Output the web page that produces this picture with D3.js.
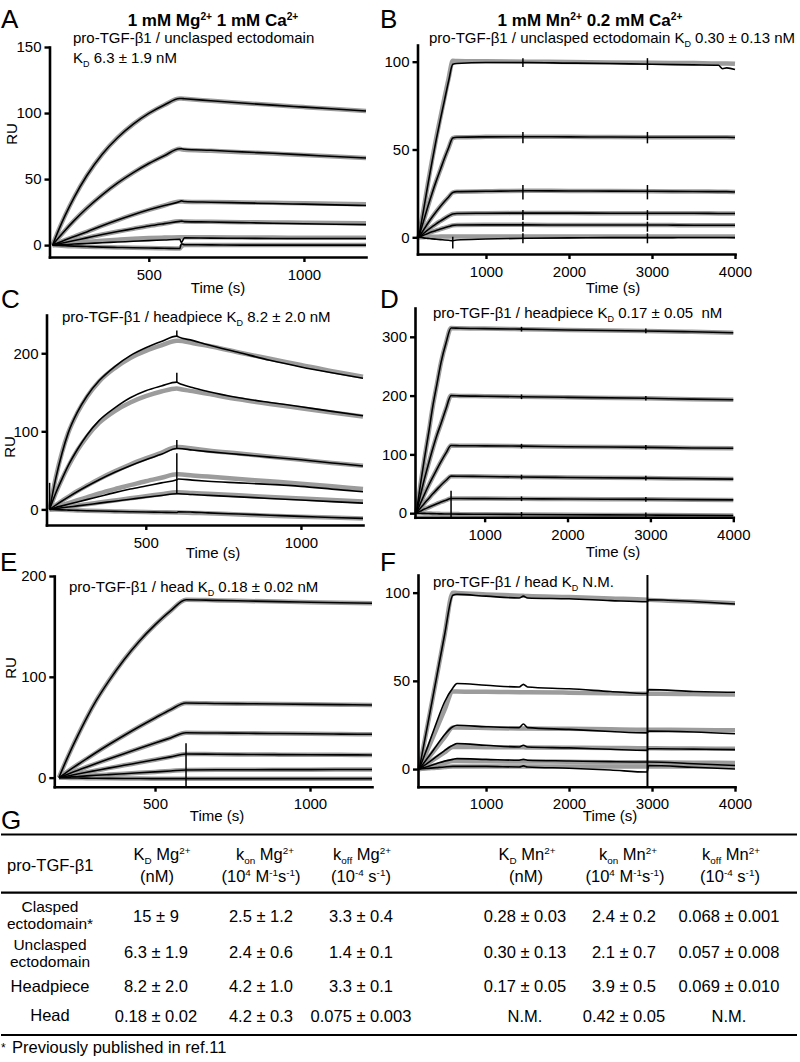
<!DOCTYPE html>
<html><head><meta charset="utf-8">
<script src="https://cdn.jsdelivr.net/npm/d3@7"></script>
<style>
html,body{margin:0;padding:0;background:#fff;}
svg{display:block;font-family:"Liberation Sans",Arial,Helvetica,sans-serif;}
</style></head>
<body>
<svg id="fig" width="800" height="1062"></svg>
<script>
// ---------------- DATA ----------------
// Panel A (Mg, unclasped ectodomain)
const aTime = [190,210,230,260,300,350,400,450,500,550,600,605,615,700,800,900,1000,1100,1200];
const aData1 = [0,11.7,22.3,36.4,52.5,68.8,81.5,91.6,99.7,106.1,111,111,110.8,109.3,107.6,106,104.5,103,101.5];
const aData2 = [0,5.7,11.1,18.7,27.9,38.1,47.1,54.9,61.8,67.7,73,73,72.6,71.8,70.6,69.5,68.3,67.1,66];
const aData3 = [0,1.9,3.8,6.5,10,14.7,19,23,26.7,30,33,33.5,33,32.5,32,31.5,31,30.5,30];
const aData4 = [0,1,2,3.5,5.5,8,10.3,12.4,14.5,16.3,18,18.2,17.8,17.5,17,16.6,16.2,15.8,15.5];
const aData5 = [0,0.2,0.5,0.8,1.2,1.8,2.3,2.9,3.4,3.9,4.4,2,5.5,5.3,5.2,5,5,5,5];
const aData6 = [0,-0.3,-0.5,-0.8,-1.1,-1.5,-1.8,-2,-2.2,-2.4,-2.6,1,0.3,0.2,0,0,0,0,0];
const aFit1 = [0,11.7,22.3,36.4,52.5,68.8,81.5,91.6,99.7,106.1,111,111,110.8,109.3,107.6,106,104.5,103,101.5];
const aFit2 = [0,5.7,11.1,18.7,27.9,38.1,47.1,54.9,61.8,67.7,73,72.5,72.2,71.5,70.4,69.3,68.2,67.1,66];
const aFit3 = [0,1.9,3.8,6.5,10,14.7,19,23,26.7,30,33,33,32.9,32.6,32.3,32,31.7,31.3,31];
const aFit4 = [0,1,2,3.5,5.5,8,10.3,12.4,14.5,16.3,18,18,17.9,17.7,17.4,17.2,17,16.8,16.5];
const aFit5 = [0,0.5,1,1.6,2.4,3.3,4.1,4.8,5.3,5.7,6,6,6,5.9,5.8,5.7,5.6,5.5,5.5];
const aFit6 = [0,-0.3,-0.6,-0.9,-1.2,-1.5,-1.8,-2,-2.2,-2.4,-2.5,-1,0,0,0,0,0,0,0];
const aSpikes = [];

// Panel B (Mn, unclasped ectodomain)
const bTime = [190,250,300,350,400,450,500,550,600,650,1000,1500,2000,2500,3000,3500,3800,3850,3900,4000];
const bData1 = [0,16,30,43,55.5,67,78,89,98.5,99,99.5,99.5,99.2,99,98.5,98.2,98,96,96.5,95.5];
const bData2 = [0,9.5,17.5,25,32,38.5,45,51,56.5,57,57.2,57.3,57.2,57.1,57,57,57,57,57,56.8];
const bData3 = [0,4.3,8,11.4,14.6,17.6,20.4,23,25.5,26,26.2,26.5,26.4,26.3,26.2,26.1,26,26,26,25.8];
const bData4 = [0,2.3,4.2,6,7.7,9.2,10.7,12.1,13.3,13.6,13.7,13.8,13.8,13.7,13.7,13.7,13.6,13.6,13.6,13.6];
const bData5 = [0,1.2,2.2,3.1,3.9,4.7,5.4,6.1,6.8,7,7.1,7.1,7,7,7,6.9,6.9,6.9,6.9,6.9];
const bData6 = [0,-0.3,-0.6,-0.9,-1.1,-1.3,-1.5,-1.7,-1.9,-1.5,-1,-0.5,-0.3,-0.2,-0.2,-0.1,-0.1,-0.1,-0.1,-0.2];
const bFit1 = [0,16.5,30.5,44,56.5,68,79.5,90.5,100.5,100.4,100.2,100,99.8,99.6,99.4,99.2,99,99,99,98.8];
const bFit6 = [0,0.1,0.2,0.3,0.3,0.4,0.4,0.4,0.5,0.5,0.5,0.5,0.5,0.5,0.5,0.5,0.5,0.5,0.5,0.5];
const bSpikes = [[1445,97,102],[2945,95.3,102],[1445,53.5,60],[2945,53.5,60],[1445,21.6,29.8],[2945,21.6,29.8],
  [1445,9.8,15.5],[2945,9.8,15.5],[1445,3.2,8.9],[2945,3.2,8.9],[1445,-3.4,2.3],[2945,-3.4,2.3],[600,-6.3,0.3]];

// Panel C (Mg, headpiece)
const cTime = [190,210,230,250,280,310,350,400,450,500,550,600,605,650,700,800,900,1000,1100,1200];
const cData1 = [0,40,72,98,125,145,165,183,197,207,215,222,221,216.5,211,201,191,182.5,175,168];
const cData2 = [0,21,39,56,77,95,114,130,143,152,158,163,162,156,151,143,137,131.5,125.5,120];
const cData3 = [0,5.5,10.7,15.7,22.9,29.6,38,47.5,56,63.6,70.5,78,78,76,74,70.5,67,63.5,59.5,55.5];
const cData4 = [0,2.5,4.5,6.5,9.5,12.5,16.5,21.5,26,30,34,38,39,37.5,36,34,32,29.5,26,22.5];
const cData5 = [0,1,2,3,4.5,6,8,10.5,13,15.5,17.8,20,20,19,18,16,14,12,10,8];
const cData6 = [0,-0.3,-0.6,-0.9,-1.3,-1.7,-2.1,-2.6,-3,-3.4,-3.7,-4,-3,-3.5,-4.5,-6,-7.5,-9,-10.3,-11.5];
const cFit1 = [0,41,73,98,124,144,164,181,194,203,210,216,216,213,209.5,201,193,185,177,170];
const cFit2 = [0,21,39,55,76,93,111,126,137,145,151,155,154.5,151.5,148,141,135,129.5,124,119];
const cFit3 = [0,5.6,11,16,23.5,30.3,39,48.7,57.5,65.3,72.5,80,80,78,75.5,71.5,67.5,63.5,59.5,56];
const cFit4 = [0,2.8,5.5,8,11.8,15.5,20.5,26,31,36,40.5,45,45,43.5,42,39,36,33,29.5,26];
const cFit5 = [0,1.1,2.2,3.3,5,6.7,8.8,11.5,14.2,16.8,19.5,22,22,21,20,18,16,14,12,10];
const cFit6 = [0,-0.3,-0.6,-0.9,-1.3,-1.7,-2.1,-2.6,-3,-3.4,-3.7,-4,-4,-4.5,-5,-6.5,-8,-9.3,-10.5,-11.7];
const cSpikes = [[190,0,34],[600,222,229],[600,163,175],[600,78,89],[600,21,72]];

// Panel D (Mn, headpiece)
const dTime = [175,225,275,325,375,425,475,535,595,700,1000,1445,2000,2945,3500,4000];
const dData1 = [0,48,94,137,182,220,257,290,315,314.5,314,313,311.5,310,308.5,307];
const dData2 = [0,30,59,85,110,133,153,178,200,199.5,199,198,197,195.5,194,193];
const dData3 = [0,16.5,32.5,47.5,61.5,75,88,102.5,115,114.8,114.5,114,113,112,111,110.5];
const dData4 = [0,8.5,17,25,33,40.5,48,56,63,62.8,62.5,61.5,60.8,59.7,58.8,58];
const dData5 = [0,3.5,7,10,13,16,19,22,25,24.9,24.8,24.5,24,23.5,23,22.6];
const dData6 = [0,-0.2,-0.4,-0.6,-0.8,-1,-1.2,-1.4,-1.5,-1.6,-1.8,-2.2,-2.6,-3.2,-3.6,-4];
const dSpikes = [[1445,309,317],[2945,306,314],[1445,194,202],[2945,191.5,199.5],[1445,110,118],[2945,108,116],
  [1445,57.5,65.5],[2945,55.7,63.7],[1445,20.5,28.5],[2945,19.5,27.5],[1445,-6,2],[2945,-7,1],[595,-7,38]];

// Panel E (Mg, head)
const eTime = [190,210,230,250,280,310,350,400,450,500,550,600,700,800,900,1000,1100,1200];
const eData1 = [0,14.6,28.3,41.2,59.6,76.3,95.5,117,135.6,151.5,165.4,176.5,175.8,175.2,174.6,174,173.5,173];
const eData2 = [0,4.3,8.6,12.8,18.9,24.9,32.6,41.8,50.7,59.2,67.4,74,73.6,73.3,73,72.7,72.4,72];
const eData3 = [0,2.4,4.8,7.1,10.6,14,18.4,23.8,29.1,34.3,39.4,44.5,44.2,44,43.7,43.5,43.2,43];
const eData4 = [0,1.2,2.4,3.6,5.4,7.1,9.4,12.2,15,17.8,20.6,23.5,23.2,23,22.8,22.7,22.6,22.5];
const eData5 = [0,0.4,0.8,1.1,1.7,2.3,3,3.9,4.8,5.7,6.6,7.6,7.8,7.8,7.9,7.9,8,8];
const eData6 = [0,-0.2,-0.3,-0.4,-0.5,-0.6,-0.7,-0.8,-0.9,-1,-1,-1,-1,-1,-1,-1,-1,-1];
const eSpikes = [[600,-9,34]];

// Panel F (Mn, head)
const fTime = [195,300,400,500,600,650,1000,1400,1450,1500,2000,2500,2940,2960,3500,4000];
const fData1 = [0,26,51,76,98.5,99,98,97,98,97,96.5,95.5,94.8,96,95,93.6];
const fData2 = [0,13,26,38,46,48.5,47.5,46.5,48,46.5,45.5,44,42.8,45,44,43.5];
const fData3 = [0,6.5,13,19.5,24,24.8,24,23.5,25.5,23.5,22.5,21.3,20.5,21.5,21,20];
const fData4 = [0,3.5,7,10.5,13.5,14.4,13.5,12.5,13.5,12.5,12,11.2,10.6,11.5,11.3,11];
const fData5 = [0,1.5,3,4.5,5.5,5.9,5.5,5,5.5,5,4.6,4.2,4,4,3,2];
const fData6 = [0,0.4,0.8,1.2,1.5,1.5,1.5,1.2,1.8,1.2,0.5,-0.5,-1.7,2,1,0];
const fFit1 = [0,26,51,76,100,99.8,99,98.3,98.2,98.1,97.5,96.7,96,95.9,95,94];
const fFit2 = [0,11.5,22.5,33.5,44,43.9,43.8,43.6,43.6,43.5,43.3,43,42.7,42.7,42.5,42.2];
const fFit3 = [0,6,12,18,23.5,23.5,23.3,23,23,23,22.8,22.5,22.3,22.3,22.1,22];
const fFit4 = [0,3.2,6.4,9.5,12.5,12.5,12.4,12.3,12.3,12.2,12.1,12,11.8,11.8,11.6,11.5];
const fFit5 = [0,1.2,2.3,3.5,4.5,4.5,4.4,4.3,4.3,4.3,4.1,3.9,3.8,3.8,3.6,3.5];
const fFit6 = [0,0.4,0.8,1.1,1.5,1.5,1.5,1.5,1.5,1.5,1.5,1.5,1.5,1.5,1.5,1.5];
const fSpikes = [[2945,-10,110]];

// Tick values
const xTicksMg = [500,1000];
const xTicksMn = [1000,2000,3000,4000];
const yTicksA = [0,50,100,150];
const yTicksB = [0,50,100];
const yTicksC = [0,100,200];
const yTicksD = [0,100,200,300];
const yTicksE = [0,100,200];
const yTicksF = [0,50,100];

// Table G
const rowLabels = [["Clasped","ectodomain*"],["Unclasped","ectodomain"],["Headpiece"],["Head"]];
const kdMg   = ["15 ± 9","6.3 ± 1.9","8.2 ± 2.0","0.18 ± 0.02"];
const konMg  = ["2.5 ± 1.2","2.4 ± 0.6","4.2 ± 1.0","4.2 ± 0.3"];
const koffMg = ["3.3 ± 0.4","1.4 ± 0.1","3.3 ± 0.1","0.075 ± 0.003"];
const kdMn   = ["0.28 ± 0.03","0.30 ± 0.13","0.17 ± 0.05","N.M."];
const konMn  = ["2.4 ± 0.2","2.1 ± 0.7","3.9 ± 0.5","0.42 ± 0.05"];
const koffMn = ["0.068 ± 0.001","0.057 ± 0.008","0.069 ± 0.010","N.M."];

// ---------------- DRAWING ----------------
const svg = d3.select("#fig");
const GRAY = "#9c9c9c";

function rich(sel, x, y, parts, size, anchor, weight) {
  const t = sel.append("text").attr("x", x).attr("y", y).attr("font-size", size)
    .attr("text-anchor", anchor || "start").attr("fill", "#000");
  if (weight) t.attr("font-weight", weight);
  let shift = 0;
  parts.forEach(p => {
    const s = typeof p === "string" ? p : p[0];
    const kind = typeof p === "string" ? "n" : p[1];
    const target = kind === "sup" ? -0.36 * size : kind === "sub" ? 0.25 * size : 0;
    const ts = t.append("tspan").text(s).attr("dy", target - shift);
    if (kind !== "n") ts.attr("font-size", size * 0.6);
    shift = target;
  });
  return t;
}

const panels = [
  {time:aTime, data:[aData1,aData2,aData3,aData4,aData5,aData6], fit:[aFit1,aFit2,aFit3,aFit4,aFit5,aFit6], spikes:aSpikes,
   xd:[180,1200], xr:[49.5,366], yd:[-9,150], yr:[257,47], xt:xTicksMg, yt:yTicksA, time_lbl:[218,293], ru:[12,134]},
  {time:bTime, data:[bData1,bData2,bData3,bData4,bData5,bData6], fit:[bFit1,bData2,bData3,bData4,bData5,bFit6], spikes:bSpikes,
   xd:[175,4000], xr:[417.5,735], yd:[-9.5,109.5], yr:[254,45], xt:xTicksMn, yt:yTicksB, time_lbl:[613,293]},
  {time:cTime, data:[cData1,cData2,cData3,cData4,cData5,cData6], fit:[cFit1,cFit2,cFit3,cFit4,cFit5,cFit6], spikes:cSpikes,
   xd:[180,1200], xr:[46.5,363], yd:[-20,249], yr:[525,315], xt:xTicksMg, yt:yTicksC, time_lbl:[213,558], ru:[10,447]},
  {time:dTime, data:[dData1,dData2,dData3,dData4,dData5,dData6], fit:[dData1,dData2,dData3,dData4,dData5,dData6], spikes:dSpikes,
   xd:[160,4000], xr:[415,733.3], yd:[-7,349], yr:[517.3,308], xt:xTicksMn, yt:yTicksD, time_lbl:[613,557]},
  {time:eTime, data:[eData1,eData2,eData3,eData4,eData5,eData6], fit:[eData1,eData2,eData3,eData4,eData5,eData6], spikes:eSpikes,
   xd:[175,1200], xr:[54.3,372], yd:[-9,200], yr:[786.7,576], xt:xTicksMg, yt:yTicksE, time_lbl:[217,821], ru:[11,668]},
  {time:fTime, data:[fData1,fData2,fData3,fData4,fData5,fData6], fit:[fFit1,fFit2,fFit3,fFit4,fFit5,fFit6], spikes:fSpikes,
   xd:[180,4000], xr:[418,735], yd:[-10,110], yr:[786.7,575], xt:xTicksMn, yt:yTicksF, time_lbl:[610,821]}
];

panels.forEach(p => {
  const x = d3.scaleLinear().domain(p.xd).range(p.xr);
  const y = d3.scaleLinear().domain(p.yd).range(p.yr);
  const g = svg.append("g");
  const line = d3.line().x(d => x(d[0])).y(d => y(d[1])).curve(d3.curveMonotoneX);
  // gray fits
  p.fit.forEach(arr => {
    g.append("path").attr("d", line(p.time.map((t,i) => [t, arr[i]])))
      .attr("fill","none").attr("stroke",GRAY).attr("stroke-width",4.5).attr("stroke-linejoin","round");
  });
  // black data
  p.data.forEach(arr => {
    g.append("path").attr("d", line(p.time.map((t,i) => [t, arr[i]])))
      .attr("fill","none").attr("stroke","#000").attr("stroke-width",1.6).attr("stroke-linejoin","round");
  });
  // spikes
  g.selectAll("line.spk").data(p.spikes).enter().append("line")
    .attr("x1", d => x(d[0])).attr("x2", d => x(d[0]))
    .attr("y1", d => y(d[1])).attr("y2", d => y(d[2]))
    .attr("stroke","#000").attr("stroke-width", d => (d[2]-d[1]) > (p.yd[1]-p.yd[0])*0.5 ? 2 : 1.5);
  // axes
  const xa = g.append("g").attr("transform", `translate(0,${p.yr[0]})`)
    .call(d3.axisBottom(x).tickValues(p.xt).tickSize(5).tickSizeOuter(0).tickPadding(7).tickFormat(d3.format("d")));
  const ya = g.append("g").attr("transform", `translate(${p.xr[0]},0)`)
    .call(d3.axisLeft(y).tickValues(p.yt).tickSize(5).tickSizeOuter(0).tickPadding(3).tickFormat(d3.format("d")));
  [xa, ya].forEach(a => {
    a.select(".domain").attr("stroke-width", 2.6).attr("stroke-linecap","square");
    a.selectAll(".tick line").attr("stroke-width", 2.4);
    a.selectAll("text").attr("font-size", 15).attr("font-family", "Liberation Sans, Arial, sans-serif").attr("fill","#000");
  });
  g.append("text").attr("x", p.time_lbl[0]).attr("y", p.time_lbl[1]).attr("text-anchor","middle")
    .attr("font-size", 15).text("Time (s)");
  if (p.ru) {
    g.append("text").attr("transform", `translate(${p.ru[0]+5},${p.ru[1]}) rotate(-90)`)
      .attr("text-anchor","middle").attr("font-size",15).text("RU");
  }
});

// Panel letters
[["A",1,28],["B",380,28],["C",1,308],["D",380,308],["E",0,571],["F",380,571],["G",1,829]].forEach(d => {
  svg.append("text").attr("x", d[1]).attr("y", d[2]).attr("font-size", 26).text(d[0]);
});

// Titles
rich(svg, 213, 26, ["1 mM Mg",["2+","sup"]," 1 mM Ca",["2+","sup"]], 17, "middle", "bold");
rich(svg, 590, 26, ["1 mM Mn",["2+","sup"]," 0.2 mM Ca",["2+","sup"]], 17, "middle", "bold");

// Subtitles
rich(svg, 73, 43, ["pro-TGF-β1 / unclasped ectodomain"], 15);
rich(svg, 73, 63, ["K",["D","sub"]," 6.3 ± 1.9 nM"], 15);
rich(svg, 429, 43, ["pro-TGF-β1 / unclasped ectodomain K",["D","sub"]," 0.30 ± 0.13 nM"], 15);
rich(svg, 62, 322, ["pro-TGF-β1 / headpiece K",["D","sub"]," 8.2 ± 2.0 nM"], 15);
rich(svg, 433, 318, ["pro-TGF-β1 / headpiece K",["D","sub"]," 0.17 ± 0.05  nM"], 15).attr("xml:space","preserve");
rich(svg, 69, 592, ["pro-TGF-β1 / head K",["D","sub"]," 0.18 ± 0.02 nM"], 15);
rich(svg, 433, 587, ["pro-TGF-β1 / head K",["D","sub"]," N.M."], 15);

// ---------------- TABLE ----------------
const T = svg.append("g");
[[834.5,2.2],[892.7,2.2],[1035,2.2]].forEach(l => {
  T.append("line").attr("x1",1).attr("x2",797).attr("y1",l[0]).attr("y2",l[0])
    .attr("stroke","#000").attr("stroke-width",l[1]);
});
const FS = 16.5;
rich(T, 7, 871, ["pro-TGF-β1"], FS);
const headers = [
  {x1:162, x2:157, l1:["K",["D","sub"]," Mg",["2+","sup"]], l2:["(nM)"]},
  {x1:265, x2:261, l1:["k",["on","sub"]," Mg",["2+","sup"]], l2:["(10",["4","sup"]," M",["-1","sup"],"s",["-1","sup"],")"]},
  {x1:362, x2:361, l1:["k",["off","sub"]," Mg",["2+","sup"]], l2:["(10",["-4","sup"]," s",["-1","sup"],")"]},
  {x1:527, x2:526, l1:["K",["D","sub"]," Mn",["2+","sup"]], l2:["(nM)"]},
  {x1:628, x2:625, l1:["k",["on","sub"]," Mn",["2+","sup"]], l2:["(10",["4","sup"]," M",["-1","sup"],"s",["-1","sup"],")"]},
  {x1:731, x2:730, l1:["k",["off","sub"]," Mn",["2+","sup"]], l2:["(10",["-4","sup"]," s",["-1","sup"],")"]}
];
headers.forEach(h => {
  rich(T, h.x1, 860, h.l1, FS, "middle");
  rich(T, h.x2, 882, h.l2, FS, "middle");
});
const rowBase = [921.5, 958, 991.5, 1021.5];
const labelBase = [[911.5, 929.3], [949.5, 967.3], [991.5], [1020.5]];
rowLabels.forEach((lbls, i) => {
  lbls.forEach((s, j) => {
    T.append("text").attr("x", 50).attr("y", labelBase[i][j]).attr("text-anchor","middle")
      .attr("font-size", lbls.length > 1 ? 15.5 : FS).text(s);
  });
});
const cols = [[kdMg,156],[konMg,261],[koffMg,361],[kdMn,525],[konMn,624],[koffMn,729]];
cols.forEach(([vals, cx]) => {
  vals.forEach((v, i) => {
    T.append("text").attr("x", cx).attr("y", rowBase[i]).attr("text-anchor","middle")
      .attr("font-size", FS).text(v);
  });
});
// footnote
T.append("text").attr("x", 1).attr("y", 1052).attr("font-size", 12).text("*");
T.append("text").attr("x", 12).attr("y", 1053).attr("font-size", FS).text("Previously published in ref.11");
</script>
</body></html>
